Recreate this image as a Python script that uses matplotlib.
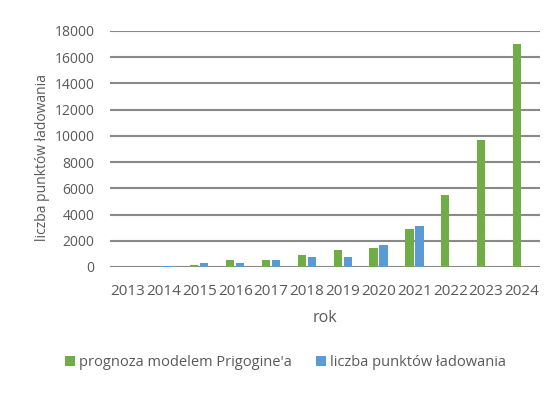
import matplotlib.pyplot as plt
import numpy as np

# --- dane ---
lata = ["2013", "2014", "2015", "2016", "2017", "2018", "2019", "2020",
        "2021", "2022", "2023", "2024"]
prognoza = [0, 0, 175, 500, 550, 900, 1320, 1450, 2900, 5500, 9700, 17000]
punkty = [0, 100, 270, 320, 530, 750, 800, 1680, 3150, 0, 0, 0]

plt.rcParams['font.family'] = ['Open Sans', 'DejaVu Sans']
tekst = '#595959'

fig = plt.figure(figsize=(5.6, 4.0), dpi=100)
ax = fig.add_axes([0.196, 0.3325, 0.768, 0.59])

x = np.arange(len(lata))
w = 0.23
ax.bar(x - w / 2 - 0.025, prognoza, w, color='#70AD47', label="prognoza modelem Prigogine'a", zorder=3)
ax.bar(x + w / 2 + 0.025, punkty, w, color='#5B9BD5', label="liczba punktów ładowania", zorder=3)

ax.set_xlim(-0.5, len(lata) - 0.5)
ax.set_ylim(0, 18000)
ax.set_yticks(range(0, 18001, 2000))
ax.set_xticks(x)
ax.set_xticklabels(lata)
ax.yaxis.grid(True, color='#898989', linewidth=1.5, zorder=0)
for s in ax.spines.values():
    s.set_visible(False)
ax.tick_params(length=0, labelsize=10, colors=tekst, pad=11)
ax.tick_params(axis='x', labelsize=11, pad=12)

ax.set_xlabel("rok", fontsize=11.5, color=tekst, labelpad=8)
ax.set_ylabel("liczba punktów ładowania", fontsize=10, color=tekst)
ax.yaxis.set_label_coords(-0.139, 0.465)

fig.legend(loc='center', bbox_to_anchor=(0.51, 0.094), ncol=2, frameon=False,
           fontsize=10.5, labelcolor=tekst, handlelength=0.7, handleheight=0.7,
           handletextpad=0.3, columnspacing=1.6)

fig.savefig("out.png", dpi=100)
